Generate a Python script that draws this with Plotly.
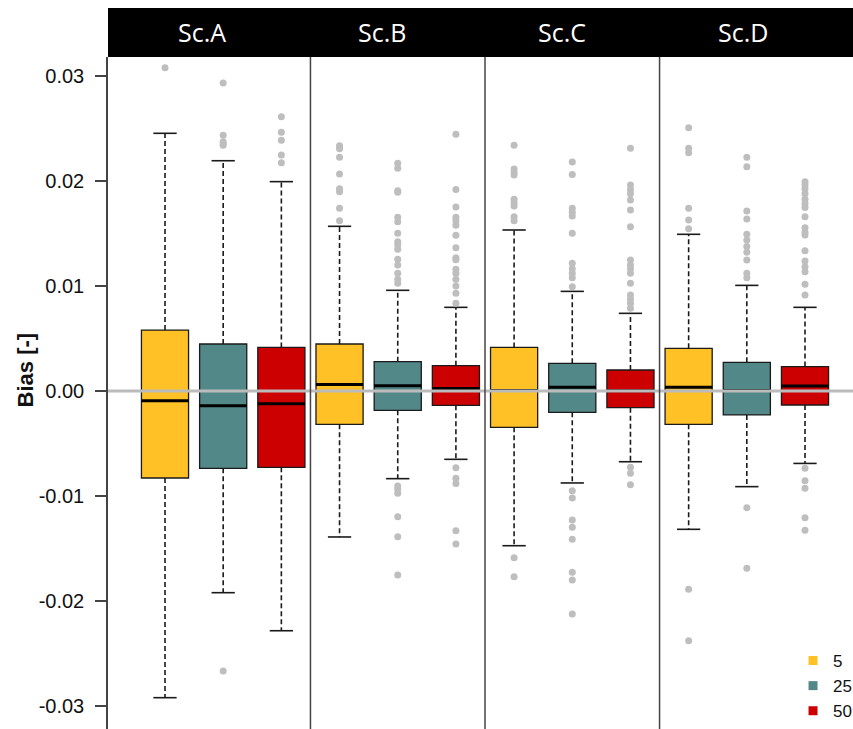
import plotly.graph_objects as go

scenarios = ["Sc.A", "Sc.B", "Sc.C", "Sc.D"]
series = ["5", "25", "50"]
colors = ["#FFC125", "#538888", "#CC0000"]

# box statistics per series, one value per scenario (A, B, C, D)
q1_5 = [-0.00828, -0.00317, -0.00346, -0.00317]
med_5 = [-0.00092, 0.00063, 0.00005, 0.00035]
q3_5 = [0.0058, 0.00447, 0.00415, 0.00406]
lo_5 = [-0.02918, -0.01389, -0.01472, -0.01316]
hi_5 = [0.02452, 0.01567, 0.01532, 0.01491]

q1_25 = [-0.00736, -0.00184, -0.00203, -0.00228]
med_25 = [-0.0014, 0.0005, 0.00035, 0.00005]
q3_25 = [0.00447, 0.00279, 0.00263, 0.00273]
lo_25 = [-0.01919, -0.00834, -0.00875, -0.0091]
hi_25 = [0.02191, 0.00958, 0.00948, 0.01005]

q1_50 = [-0.00726, -0.00136, -0.00159, -0.00133]
med_50 = [-0.00121, 0.00025, 0.00003, 0.00048]
q3_50 = [0.00415, 0.00241, 0.002, 0.00232]
lo_50 = [-0.02281, -0.0065, -0.00673, -0.00689]
hi_50 = [0.01992, 0.00796, 0.00739, 0.00796]

out_5 = [
    [0.03076],
    [0.02334, 0.02306, 0.02224, 0.02065, 0.01925, 0.01896, 0.01738, 0.0162],
    [0.02338, 0.02112, 0.0208, 0.02055, 0.01824, 0.01792, 0.0176, 0.01659, 0.0162,
     -0.01586, -0.01767],
    [0.02505, 0.02309, 0.02268, 0.01738, 0.01627, 0.01544, -0.01887, -0.02376],
]
out_25 = [
    [0.0293, 0.02433, 0.02372, 0.0235, 0.02338, -0.02664],
    [0.02166, 0.02119, 0.01906, 0.0189, 0.01653, 0.01611, 0.015, 0.0142, 0.01389,
     0.01348, 0.01253, 0.01199, 0.0112, 0.01063, 0.01025,
     -0.00904, -0.00935, -0.00974, -0.01196, -0.01386, -0.01751],
    [0.02179, 0.02061, 0.01738, 0.017, 0.01665, 0.015, 0.01215, 0.01164, 0.0112,
     0.01078, 0.00993, -0.00948, -0.01018, -0.01227, -0.01297, -0.01411, -0.01725,
     -0.01798, -0.02122],
    [0.02224, 0.02134, 0.01713, 0.01637, 0.01491, 0.01437, 0.01374, 0.0132, 0.01247,
     0.0112, 0.01078, -0.0111, -0.01687],
]
out_50 = [
    [0.0261, 0.02461, 0.02385, 0.02245, 0.02172],
    [0.02442, 0.01918, 0.01751, 0.01653, 0.0162, 0.01577, 0.01481, 0.01364, 0.01268,
     0.0125, 0.01158, 0.0112, 0.01063, 0.00999, 0.0093, 0.00834,
     -0.0073, -0.00831, -0.00879, -0.01329, -0.01456],
    [0.02309, 0.0196, 0.01918, 0.01878, 0.01817, 0.01722, 0.01563, 0.01246, 0.01199,
     0.01164, 0.0112, 0.01025, 0.00913, 0.00872, 0.00834, 0.00787,
     -0.00726, -0.00783, -0.00891],
    [0.01992, 0.0196, 0.01922, 0.01878, 0.01824, 0.01785, 0.01747, 0.01659, 0.01554,
     0.0151, 0.01484, 0.01335, 0.01236, 0.01182, 0.01135, 0.01015, 0.00913,
     -0.00736, -0.00853, -0.00926, -0.01206, -0.01326],
]

tick_vals = [-0.03, -0.02, -0.01, 0.0, 0.01, 0.02, 0.03]
tick_text = ["-0.03", "-0.02", "-0.01", "0.00", "0.01", "0.02", "0.03"]

stats = [
    (q1_5, med_5, q3_5, lo_5, hi_5, out_5),
    (q1_25, med_25, q3_25, lo_25, hi_25, out_25),
    (q1_50, med_50, q3_50, lo_50, hi_50, out_50),
]

BOX_W = 0.81
CAP_W = 0.2
fig = go.Figure()

wx, wy, cx, cy, mx, my, ox, oy = [], [], [], [], [], [], [], []
for si, (q1, med, q3, lo, hi, outs) in enumerate(stats):
    xs = [g * 3 + si + 1 for g in range(len(scenarios))]
    fig.add_trace(go.Box(
        x=xs, q1=q1, median=med, q3=q3, lowerfence=q1, upperfence=q3,
        width=BOX_W, fillcolor=colors[si], line=dict(color="#1a1a1a", width=1.3),
        whiskerwidth=0, boxpoints=False, showlegend=False, hoverinfo="skip"))
    for g, x in enumerate(xs):
        wx += [x, x, None, x, x, None]
        wy += [q3[g], hi[g], None, q1[g], lo[g], None]
        cx += [x - CAP_W, x + CAP_W, None, x - CAP_W, x + CAP_W, None]
        cy += [hi[g], hi[g], None, lo[g], lo[g], None]
        mx += [x - BOX_W / 2, x + BOX_W / 2, None]
        my += [med[g], med[g], None]
        ox += [x] * len(outs[g])
        oy += outs[g]

fig.add_trace(go.Scatter(x=mx, y=my, mode="lines", line=dict(color="black", width=3),
                         showlegend=False, hoverinfo="skip"))
fig.add_trace(go.Scatter(x=[0, 13], y=[0, 0], mode="lines",
                         line=dict(color="#BBBBBB", width=3), showlegend=False, hoverinfo="skip"))
fig.add_trace(go.Scatter(x=wx, y=wy, mode="lines",
                         line=dict(color="#1a1a1a", width=1.6, dash="5px,3px"),
                         showlegend=False, hoverinfo="skip"))
fig.add_trace(go.Scatter(x=cx, y=cy, mode="lines", line=dict(color="#1a1a1a", width=1.6),
                         showlegend=False, hoverinfo="skip"))
fig.add_trace(go.Scatter(x=ox, y=oy, mode="markers",
                         marker=dict(color="#BEBEBE", size=7), showlegend=False, hoverinfo="skip"))

for si, name in enumerate(series):
    fig.add_trace(go.Scatter(x=[None], y=[None], mode="markers", name=name,
                             marker=dict(symbol="square", size=9, color=colors[si])))

# separators between scenario panels
for g in range(1, len(scenarios)):
    fig.add_shape(type="line", xref="x", yref="paper", x0=g * 3 + 0.5, x1=g * 3 + 0.5,
                  y0=0, y1=1, line=dict(color="#444444", width=1.5))

# header strip
fig.add_shape(type="rect", xref="paper", yref="paper", x0=0, x1=1, y0=1, y1=1.073,
              fillcolor="black", line=dict(width=0))
label_x = [1.636, 4.73, 7.82, 10.93]
for g, s in enumerate(scenarios):
    fig.add_annotation(x=label_x[g], y=1.0365, xref="x", yref="paper", text=s,
                       showarrow=False, font=dict(color="white", size=25, family="Open Sans"),
                       xanchor="center", yanchor="middle")

fig.add_annotation(x=-0.111, y=0.534, xref="paper", yref="paper", text="<b>Bias [-]</b>",
                   textangle=-90, showarrow=False, xanchor="center", yanchor="middle",
                   font=dict(size=22, family="Liberation Sans, Arial", color="#111"))

fig.update_layout(
    width=853, height=729,
    margin=dict(l=108, r=0, t=57, b=0, autoexpand=False),
    paper_bgcolor="white", plot_bgcolor="white",
    boxmode="overlay",
    xaxis=dict(range=[0.0203, 12.825], showgrid=False, zeroline=False,
               showticklabels=False, ticks="", showline=False),
    yaxis=dict(range=[-0.03216, 0.03178], tickvals=tick_vals, ticktext=tick_text,
               showgrid=False, zeroline=False, showline=True, linecolor="#444444",
               linewidth=1.5, ticks="outside", ticklen=11, tickwidth=1.5,
               tickcolor="#444444", ticklabelstandoff=7,
               tickfont=dict(size=20, family="Liberation Sans, Arial", color="#111")),
    legend=dict(x=0.9195, y=0.128, xanchor="left", yanchor="top", bgcolor="rgba(0,0,0,0)",
                font=dict(size=17, family="Liberation Sans, Arial", color="#111"),
                tracegroupgap=0, itemwidth=30),
)

fig.write_html("out.html", config={"displayModeBar": False},
               post_script="document.body.style.margin='0px';")
